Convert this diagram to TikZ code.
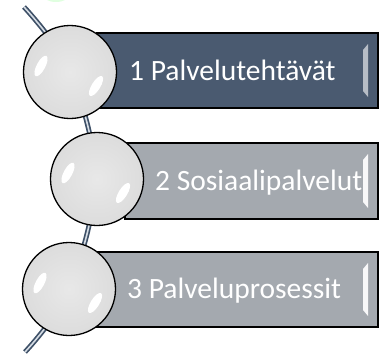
\documentclass[tikz,border=0pt]{standalone}
\usepackage{fontspec}
\setmainfont{Carlito}
\definecolor{boxdark}{HTML}{4A5A70}
\definecolor{boxgrey}{HTML}{A4A9AF}
\definecolor{linedark}{HTML}{3E5067}
\definecolor{lineinner}{HTML}{D5DCE4}
\definecolor{sphA}{HTML}{E8E8E8}
\definecolor{sphB}{HTML}{DADADA}
\definecolor{sphC}{HTML}{9C9C9C}
\pgfdeclareradialshading{sphere}{\pgfpoint{0bp}{0bp}}{color(0bp)=(sphA); color(30bp)=(sphB); color(45bp)=(sphC); color(50bp)=(sphC)}
\tikzset{
  x=1pt, y=-1pt,
  itembox/.style={draw=black, line width=1.4pt},
  darkbox/.style={itembox, fill=boxdark},
  greybox/.style={itembox, fill=boxgrey},
  ballnode/.style={circle, draw=black, line width=1.3pt, minimum size=93pt, inner sep=0pt, shading=sphere},
  glint/.style={fill=white, draw=none},
  label/.style={anchor=base west, inner sep=0pt, text=white, font=\fontsize{29.5}{32}\selectfont},
  bevdark/.style={fill=boxdark!40!white, draw=none},
  bevgrey/.style={fill=white!92!boxgrey, draw=none},
}
\begin{document}
\begin{tikzpicture}
\useasboundingbox (0,0) rectangle (385,356);
\fill[green!12] (56,-6) ellipse [x radius=14, y radius=8];
% connector
\coordinate (top) at (24,7);
\coordinate (bottom) at (25,352);
\draw[linedark, line width=5pt] plot[smooth, tension=0.6] coordinates {(top) (70,72) (95,179) (69,289) (bottom)};
\draw[lineinner, line width=1.6pt] plot[smooth, tension=0.6] coordinates {(top) (70,72) (95,179) (69,289) (bottom)};
% boxes
\draw[darkbox] (97,33) rectangle (378,108);
\draw[greybox] (125,143) rectangle (378,219);
\draw[greybox] (97,252) rectangle (378,327);
\fill[bevdark] (363,50) -- (368,44) -- (368,97) -- (363,91) -- cycle;
\fill[bevgrey] (363,160) -- (368,154) -- (368,208) -- (363,202) -- cycle;
\fill[bevgrey] (363,269) -- (368,263) -- (368,316) -- (363,310) -- cycle;
% texts
\node[label] (t1) at (129,80) {1 Palvelutehtävät};
\node[label] (t2) at (155,190) {2 Sosiaalipalvelut};
\node[label] (t3) at (127,298) {3 Palveluprosessit};
% balls
\node[ballnode] (b1) at (70,72) {};
\node[ballnode] (b2) at (97,179) {};
\node[ballnode] (b3) at (69,289) {};
\foreach \cx/\cy in {70/72, 97/179, 69/289}{
  \fill[glint, rotate around={62:(\cx-29,\cy-6)}] (\cx-29,\cy-6) ellipse [x radius=11.5, y radius=4.3];
  \fill[glint, rotate around={58:(\cx+26,\cy+14)}] (\cx+26,\cy+14) ellipse [x radius=11.5, y radius=4.3];
}
\end{tikzpicture}
\end{document}
